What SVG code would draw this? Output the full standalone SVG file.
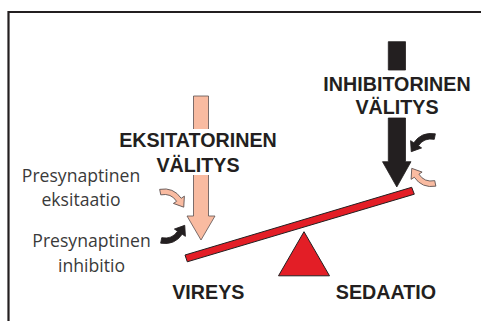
<svg xmlns="http://www.w3.org/2000/svg" width="481" height="321" viewBox="0 0 481 321">
<style>
.frame{fill:none;stroke:#231f20;stroke-width:2.2}
.salmon{fill:#f9bba1;stroke:#5a5050;stroke-width:0.8}
.black{fill:#231f20;stroke:#231f20;stroke-width:0.8}
.red{fill:#e31e26;stroke:#231f20;stroke-width:1}
.bold{font-family:"Liberation Sans",Arial,sans-serif;font-weight:bold;font-size:19.7px;fill:#231f20;text-anchor:middle}
.reg{font-family:"Open Sans","Noto Sans",sans-serif;font-size:17.6px;fill:#3a3a3a;text-anchor:middle}
</style>
<defs>
<path id="curl" d="M2.5,11.5 Q12,13.3 16.9,5.6 L14,3.7 L23.4,0.3 L24,10.3 L21.1,8.4 Q14,18.7 1.5,16.5 Z"/>
</defs>
<rect width="481" height="321" fill="#fff"/>
<path class="frame" d="M8.5,321 V12 H481"/>

<g id="excitatory">
<path class="salmon" d="M193.5,129 V96 H208.5 V129"/>
<path class="salmon" d="M193.5,175 V216 H187 L201,240 L215,216 H208.5 V175"/>
<text class="bold" x="198" y="147">EKSITATORINEN</text>
<text class="bold" x="198" y="172">VÄLITYS</text>
</g>

<g id="inhibitory">
<path class="black" d="M388.3,70 V41.7 H405.5 V70 Z"/>
<path class="black" d="M388.3,118 V161.7 H382.5 L396.8,187 L411,161.7 H405.5 V118 Z"/>
<text class="bold" x="397" y="91">INHIBITORINEN</text>
<text class="bold" x="397" y="114">VÄLITYS</text>
</g>

<g id="lever">
<path class="red" d="M185,255 L411.7,187.3 L414.3,194.2 L187.3,261.8 Z"/>
</g>

<g id="fulcrum">
<path class="red" d="M304,231.7 L329.5,275.8 L278.5,275.8 Z"/>
</g>

<g id="presyn-excitation">
<use href="#curl" class="salmon" transform="translate(158,207.5) scale(1.1,-1.1)"/>
<text class="reg" x="81" y="181.5">Presynaptinen</text>
<text class="reg" x="81" y="206">eksitaatio</text>
</g>

<g id="presyn-inhibition">
<use href="#curl" class="black" transform="translate(159,225) scale(1.1)"/>
<text class="reg" x="91.5" y="247.3">Presynaptinen</text>
<text class="reg" x="91.5" y="271.7">inhibitio</text>
</g>

<g id="curl-right-black">
<use href="#curl" class="black" transform="translate(437,152) scale(-1.1,-1.1)"/>
</g>
<g id="curl-right-salmon">
<use href="#curl" class="salmon" transform="translate(437.5,168) scale(-1.1,1.1)"/>
</g>

<g id="labels">
<text class="bold" x="208.3" y="299.3">VIREYS</text>
<text class="bold" x="386" y="299.3">SEDAATIO</text>
</g>
</svg>
